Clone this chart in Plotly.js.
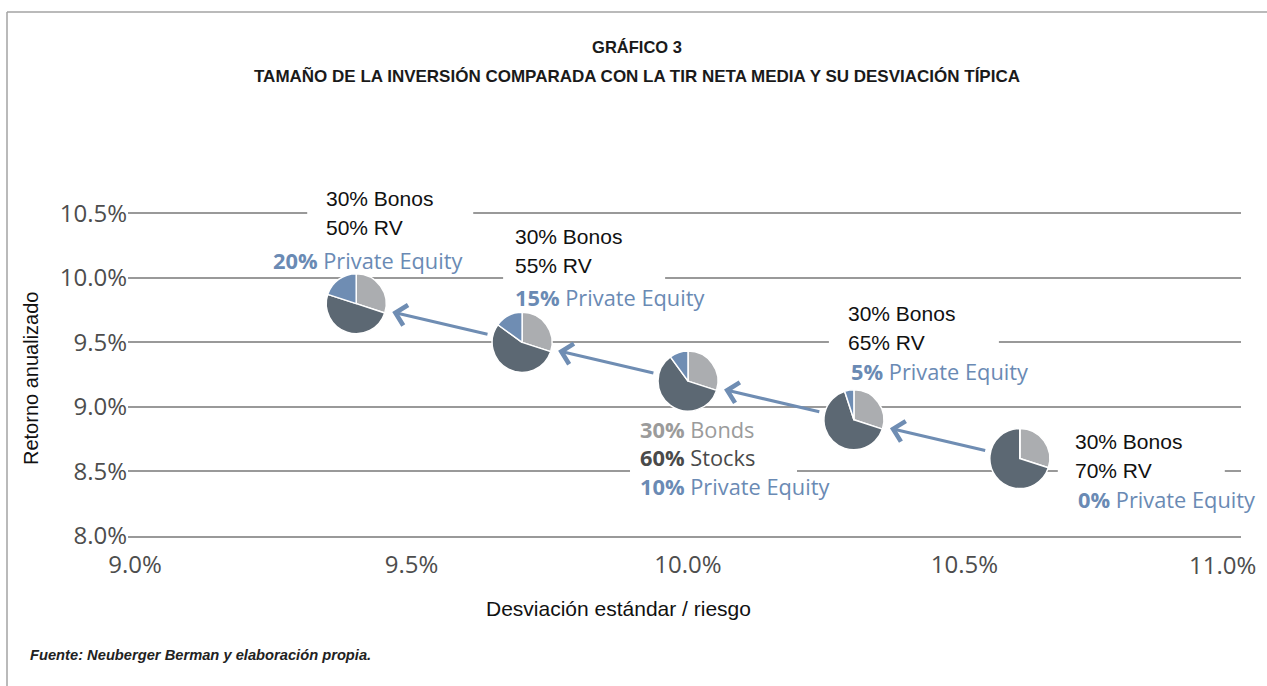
<!DOCTYPE html>
<html>
<head>
<meta charset="utf-8">
<script src="https://cdn.plot.ly/plotly-3.0.1.min.js"></script>
<style>html,body{margin:0;padding:0;background:#fff;}#chart{width:1267px;height:686px;}</style>
</head>
<body>
<div id="chart"></div>
<script>
// ---- data ----
const risk = [9.4, 9.7, 10.0, 10.3, 10.6];          // Desviación estándar (%)
const ret = [9.8, 9.5, 9.2, 8.9, 8.6];              // Retorno anualizado (%)
const bonds = [30, 30, 30, 30, 30];
const stocks = [50, 55, 60, 65, 70];
const privateEquity = [20, 15, 10, 5, 0];
const xTicks = [9.0, 9.5, 10.0, 10.5, 11.0];
const yTicks = [8.0, 8.5, 9.0, 9.5, 10.0, 10.5];

// ---- style / layout ----
const W = 1267, H = 686;
const M = {l: 128, r: 26, t: 212, b: 150};
const PW = W - M.l - M.r, PH = H - M.t - M.b;
const xRange = [8.9873, 11.0];
const yRange = [8.0, 10.51];
const C_GRAY = '#abadb0', C_DARK = '#5c6873', C_BLUE = '#6f8db3', C_TXTBLUE = '#6a8ab4';
const HELV = 'Liberation Sans, Arial, Helvetica, sans-serif';
const FRUT = 'Open Sans, Noto Sans, sans-serif';
const PIE_R = 30;
const TICKFONT = {family: FRUT, size: 24, color: '#4d4d4d'};

const px2x = p => (p - M.l) / PW;
const py2y = p => (H - M.b - p) / PH;
const xp = v => (v - xRange[0]) / (xRange[1] - xRange[0]);
const yp = v => (v - yRange[0]) / (yRange[1] - yRange[0]);

// pies
const traces = risk.map((r, i) => {
  const cx = xp(r), cy = yp(ret[i]);
  const dx = PIE_R / PW, dy = PIE_R / PH;
  return {
    type: 'pie',
    values: [bonds[i], stocks[i], privateEquity[i]],
    labels: ['Bonos', 'RV', 'Private Equity'],
    sort: false, direction: 'clockwise', rotation: 0,
    marker: {colors: [C_GRAY, C_DARK, C_BLUE], line: {color: '#ffffff', width: 1.5}},
    textinfo: 'none', hoverinfo: 'skip', showlegend: false,
    domain: {x: [cx - dx, cx + dx], y: [cy - dy, cy + dy]}
  };
});

// label offsets (px) relative to each pie centre: [dx, dy(down)]
const labelOffsets = [
  [[-30, -105], [-30, -76], [-83, -43]],
  [[-7, -106], [-7, -77], [-7, -45]],
  [[-48, 77]],
  [[-6, -106], [-6, -77], [-3, -48]],
  [[55, -17], [55, 12], [58, 41]]
];

const annotations = [];
risk.forEach((r, i) => {
  let lines;
  if (i === 2) {
    lines = [{
      text: '<span style="color:#9b9b9b"><b>' + bonds[i] + '%</b> Bonds</span><br>' +
            '<span style="color:#4a4a4a"><b>' + stocks[i] + '%</b> Stocks</span><br>' +
            '<span style="color:' + C_TXTBLUE + '"><b>' + privateEquity[i] + '%</b> Private Equity</span>',
      font: {family: FRUT, size: 21.8, color: '#4a4a4a'}
    }];
  } else {
    lines = [
      {text: bonds[i] + '% Bonos', font: {family: HELV, size: 21, color: '#111111'}},
      {text: stocks[i] + '% RV', font: {family: HELV, size: 21, color: '#111111'}},
      {text: '<b>' + privateEquity[i] + '%</b> Private Equity', font: {family: FRUT, size: 21.8, color: C_TXTBLUE}}
    ];
  }
  lines.forEach((ln, k) => {
    annotations.push({
      xref: 'x', yref: 'y', x: r, y: ret[i],
      xanchor: 'left', yanchor: 'middle', align: 'left',
      xshift: labelOffsets[i][k][0] - 2, yshift: -labelOffsets[i][k][1],
      text: ln.text, font: ln.font, showarrow: false
    });
  });
});

// arrows between consecutive pies (pointing to lower-risk portfolio)
for (let i = 0; i < risk.length - 1; i++) {
  annotations.push({
    xref: 'x', yref: 'y', axref: 'x', ayref: 'y',
    x: risk[i], y: ret[i], ax: risk[i + 1], ay: ret[i + 1],
    text: '', showarrow: true, arrowhead: 4, arrowsize: 1.35, arrowwidth: 3,
    arrowcolor: C_BLUE, standoff: 37, startstandoff: 34
  });
}

// last x tick label, kept inside the page (right-aligned on its tick)
const lastX = xTicks[xTicks.length - 1];
annotations.push({
  xref: 'x', yref: 'paper', x: lastX, y: 0, xanchor: 'right', yanchor: 'top',
  xshift: 17, yshift: -10, text: lastX.toFixed(1) + '%', font: TICKFONT, showarrow: false
});

// titles, axis titles, source
annotations.push({
  xref: 'paper', yref: 'paper', x: px2x(637), y: py2y(76), xanchor: 'center', yanchor: 'middle',
  text: '<b>TAMAÑO DE LA INVERSIÓN COMPARADA CON LA TIR NETA MEDIA Y SU DESVIACIÓN TÍPICA</b>',
  font: {family: HELV, size: 17, color: '#1a1a1a'}, showarrow: false
});
annotations.push({
  xref: 'paper', yref: 'paper', x: px2x(618), y: py2y(608), xanchor: 'center', yanchor: 'middle',
  text: 'Desviación estándar / riesgo', font: {family: HELV, size: 21, color: '#111111'}, showarrow: false
});
annotations.push({
  xref: 'paper', yref: 'paper', x: px2x(31), y: py2y(378), xanchor: 'center', yanchor: 'middle',
  textangle: -90, text: 'Retorno anualizado', font: {family: HELV, size: 20, color: '#111111'}, showarrow: false
});
annotations.push({
  xref: 'paper', yref: 'paper', x: px2x(28), y: py2y(655), xanchor: 'left', yanchor: 'middle',
  text: '<b><i>Fuente: Neuberger Berman y elaboración propia.</i></b>',
  font: {family: HELV, size: 14.7, color: '#222222'}, showarrow: false
});

// white gaps in grid lines behind label blocks
const gapBoxes = [
  {pie: 0, grid: 10.5, x0: -49, x1: 117},
  {pie: 1, grid: 10.0, x0: -19, x1: 143},
  {pie: 2, grid: 8.5, x0: -58, x1: 109},
  {pie: 3, grid: 9.5, x0: -25, x1: 145},
  {pie: 4, grid: 8.5, x0: 38, x1: 205}
];
const shapes = gapBoxes.map(g => ({
  type: 'rect', layer: 'above', xref: 'x', yref: 'y',
  xsizemode: 'pixel', ysizemode: 'pixel',
  xanchor: risk[g.pie], yanchor: g.grid,
  x0: g.x0, x1: g.x1, y0: -5, y1: 5,
  fillcolor: '#ffffff', line: {width: 0}
}));
// outer frame (top and left edges)
shapes.push({type: 'line', xref: 'paper', yref: 'paper', x0: px2x(7), x1: px2x(1275), y0: py2y(12), y1: py2y(12), line: {color: '#a3a3a3', width: 1.5}});
shapes.push({type: 'line', xref: 'paper', yref: 'paper', x0: px2x(7), x1: px2x(7), y0: py2y(12), y1: py2y(700), line: {color: '#a3a3a3', width: 1.5}});

const layout = {
  width: W, height: H,
  margin: M,
  paper_bgcolor: '#ffffff', plot_bgcolor: '#ffffff',
  showlegend: false,
  hovermode: false,
  title: {
    text: '<b>GRÁFICO 3</b>', x: 637 / W, xanchor: 'center', y: 1 - 47 / H, yanchor: 'middle',
    font: {family: HELV, size: 16.5, color: '#1a1a1a'}
  },
  xaxis: {
    range: xRange, tickvals: xTicks,
    ticktext: xTicks.map((v, i) => (i === xTicks.length - 1 ? '' : v.toFixed(1) + '%')),
    showgrid: false, zeroline: false, showline: true, linecolor: '#999999', linewidth: 2,
    ticks: '', ticklabelstandoff: 6,
    tickfont: TICKFONT, fixedrange: true
  },
  yaxis: {
    range: yRange, tickvals: yTicks, ticktext: yTicks.map(v => v.toFixed(1) + '%'),
    showgrid: true, gridcolor: '#999999', gridwidth: 2, zeroline: false, showline: false,
    ticks: '', ticklabelstandoff: 0,
    tickfont: TICKFONT, fixedrange: true
  },
  annotations: annotations,
  shapes: shapes
};

Plotly.newPlot('chart', traces, layout, {displayModeBar: false, staticPlot: true});
</script>
</body>
</html>
